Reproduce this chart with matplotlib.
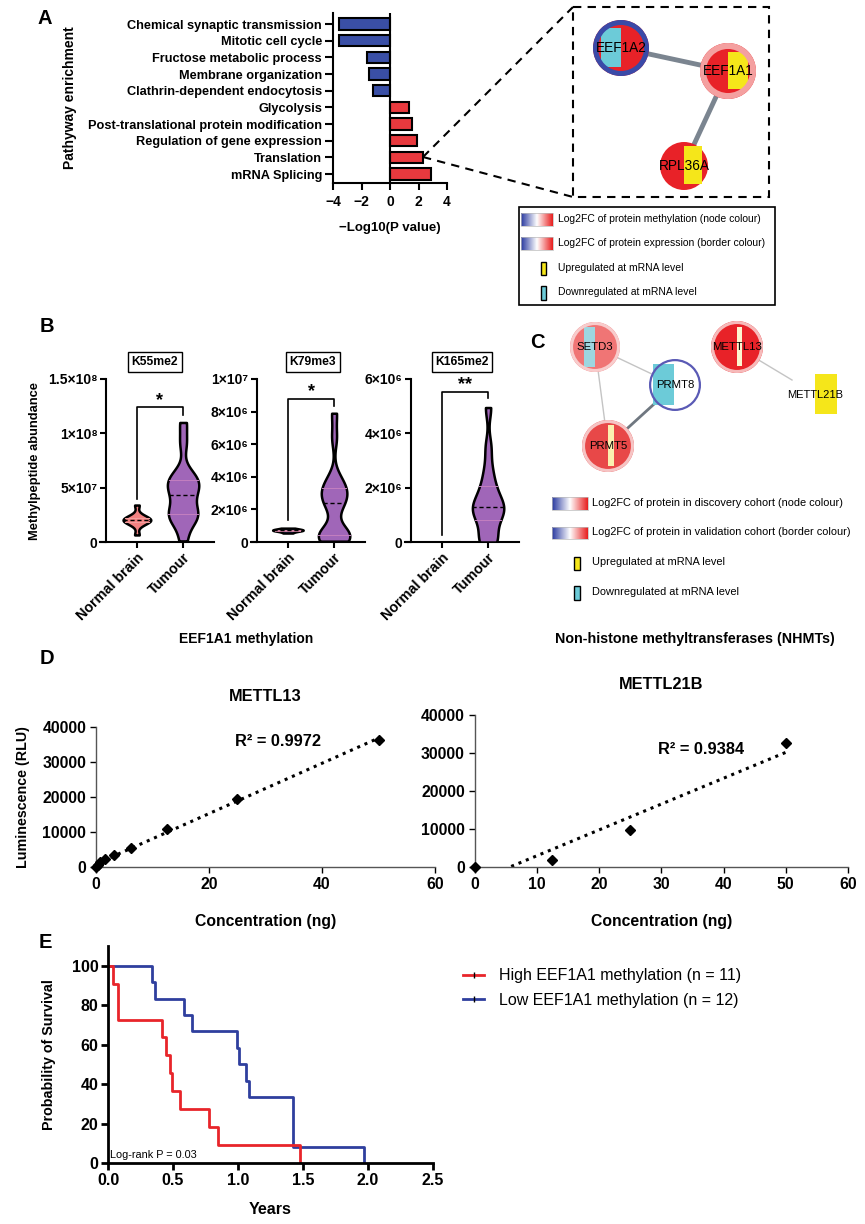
import numpy as np
import matplotlib
matplotlib.use("Agg")
import matplotlib.pyplot as plt
from matplotlib.patches import Circle, Rectangle
from matplotlib.mlab import GaussianKDE
from matplotlib.colors import LinearSegmentedColormap
from matplotlib.lines import Line2D

plt.rcParams['font.family'] = ['Liberation Sans', 'DejaVu Sans']
plt.rcParams['axes.unicode_minus'] = True

W, H = 865, 1224

# ---------------- DATA ----------------
# Panel A
pathways = ["Chemical synaptic transmission", "Mitotic cell cycle", "Fructose metabolic process",
            "Membrane organization", "Clathrin-dependent endocytosis", "Glycolysis",
            "Post-translational protein modification", "Regulation of gene expression",
            "Translation", "mRNA Splicing"]
enrichment = [-3.6, -3.6, -1.6, -1.45, -1.2, 1.3, 1.55, 1.9, 2.3, 2.85]
a_ticks = [-4, -2, 0, 2, 4]

# Panel B (estimated individual values)
k55_normal = [0.65e7, 1.55e7, 1.8e7, 1.95e7, 2.0e7, 2.05e7, 2.1e7, 2.25e7, 2.5e7, 3.4e7]
k55_tumour = [0.1e7, 1.6e7, 2.2e7, 2.5e7, 2.7e7, 2.9e7, 4.1e7, 4.3e7, 5.0e7, 5.3e7, 5.6e7, 5.9e7, 6.4e7, 9.1e7, 11.0e7]
k79_normal = [0.55e6, 0.65e6, 0.7e6, 0.72e6, 0.75e6, 0.78e6, 0.85e6]
k79_tumour = [0.05e6, 0.2e6, 0.3e6, 0.35e6, 0.4e6, 0.5e6, 0.6e6, 2.0e6, 2.4e6, 2.6e6, 2.9e6, 3.1e6, 3.3e6,
              3.6e6, 4.0e6, 6.4e6, 7.9e6]
k165_normal = []
k165_tumour = [0.0, 0.05e6, 0.15e6, 0.7e6, 0.9e6, 1.1e6, 1.2e6, 1.3e6, 1.4e6, 1.6e6, 1.9e6, 2.2e6, 2.7e6, 3.5e6, 4.95e6]
b_groups = ["Normal brain", "Tumour"]
b_titles = ["K55me2", "K79me3", "K165me2"]
b_stars = ["*", "*", "**"]
b_yticks = [[0, 5e7, 1e8, 1.5e8], [0, 2e6, 4e6, 6e6, 8e6, 1e7], [0, 2e6, 4e6, 6e6]]
b_yticklabels = [["0", "5×10⁷", "1×10⁸", "1.5×10⁸"],
                 ["0", "2×10⁶", "4×10⁶", "6×10⁶", "8×10⁶", "1×10⁷"],
                 ["0", "2×10⁶", "4×10⁶", "6×10⁶"]]
# bracket: (top, left leg bottom, right leg bottom, star y)
b_brackets = [(1.242e8, 3.96e7, 1.169e8, 1.30e8),
              (8.77e6, 1.35e6, 8.34e6, 9.25e6),
              (5.52e6, 0.26e6, 5.29e6, 5.80e6)]

# Panel D
mettl13_conc = [0, 0.39, 0.78, 1.56, 3.125, 6.25, 12.5, 25, 50]
mettl13_lum = [0, 600, 1300, 2200, 3300, 5400, 11000, 19500, 36200]
mettl21b_conc = [0, 12.5, 25, 50]
mettl21b_lum = [0, 1800, 9700, 32600]
d_xticks_left = [0, 20, 40, 60]
d_xticks_right = [0, 10, 20, 30, 40, 50, 60]
d_yticks = [0, 10000, 20000, 30000, 40000]

# Panel E (event times, years)
high_times = [0.041, 0.074, 0.08, 0.417, 0.443, 0.479, 0.492, 0.554, 0.779, 0.848, 1.48]
low_times = [0.336, 0.362, 0.587, 0.644, 0.995, 1.005, 1.06, 1.082, 1.426, 1.426, 1.426, 1.973]
e_xticks = [0.0, 0.5, 1.0, 1.5, 2.0, 2.5]
e_yticks = [0, 20, 40, 60, 80, 100]

# Colours
BLUE_BAR = '#3a4fa6'
RED_BAR = '#e8393e'
NODE_RED = '#e82228'
CYAN = '#6ccbd8'
YELLOW = '#f5e61a'
VIOLIN_PINK = '#f28282'
VIOLIN_PURPLE = '#a066b8'
KM_RED = '#e8252a'
KM_BLUE = '#2f3f9e'

fig = plt.figure(figsize=(W / 100, H / 100), dpi=100)


def ax_px(x0, y0, x1, y1, **kw):
    return fig.add_axes([x0 / W, 1 - y1 / H, (x1 - x0) / W, (y1 - y0) / H], **kw)


# ---------------- Panel A bars ----------------
axA = ax_px(333, 13, 447, 183)
pos = np.arange(len(pathways))
cols = [BLUE_BAR if v < 0 else RED_BAR for v in enrichment]
axA.barh(pos, enrichment, height=0.7, color=cols, edgecolor='black', linewidth=1.5, zorder=3)
axA.axvline(0, color='black', lw=1.5, zorder=4)
axA.set_xlim(-4, 4)
axA.set_ylim(9.54, -0.66)
axA.set_yticks(pos)
axA.set_yticklabels(pathways, fontsize=9.2, fontweight='bold')
axA.set_xticks(a_ticks)
axA.set_xticklabels([f"{t}".replace('-', '\u2212') for t in a_ticks], fontsize=10, fontweight='bold')
for s in ['top', 'right']:
    axA.spines[s].set_visible(False)
for s in ['left', 'bottom']:
    axA.spines[s].set_linewidth(1.5)
axA.tick_params(axis='y', width=1.5, length=6, pad=2)
axA.tick_params(axis='x', width=1.5, length=5, pad=4)
axA.set_xlabel("\u2212Log10(P value)", fontsize=9.5, fontweight='bold', labelpad=9)

# ---------------- Panel B violins ----------------
def draw_violin(ax, x, data, color, bw, half=0.33, qcolor='#c080c0'):
    data = np.asarray(data, dtype=float)
    if data.size == 0:
        return
    kde = GaussianKDE(data, bw)
    ys = np.linspace(data.min(), data.max(), 300)
    d = kde.evaluate(ys)
    sc = half / d.max()
    w = d * sc
    ax.fill_betweenx(ys, x - w, x + w, facecolor=color, edgecolor='black', lw=1.8, zorder=3)
    q1, med, q3 = np.percentile(data, [25, 50, 75])
    for q, ls, c, lw in [(q1, '-', qcolor, 0.7), (q3, '-', qcolor, 0.7), (med, (0, (3, 2)), 'black', 1.0)]:
        wq = kde.evaluate(np.array([q]))[0] * sc
        ax.plot([x - wq, x + wq], [q, q], ls=ls, color=c, lw=lw, zorder=4)


b_data = [(k55_normal, k55_tumour, 1.5e8, '#f5a0a0', 0.45, 0.32),
          (k79_normal, k79_tumour, 1e7, '#d080a0', 0.6, 0.28),
          (k165_normal, k165_tumour, 6e6, None, 0.6, 0.3)]
b_x0 = [106, 257, 411]
b_title_x = [155, 313, 462]
for i, (nb, tu, top, qn, bwn, bwt) in enumerate(b_data):
    ax = ax_px(b_x0[i], 379, b_x0[i] + 108, 542)
    ncol = VIOLIN_PINK if i == 0 else '#2b3a7a'
    draw_violin(ax, 0, nb, ncol, bwn, half=0.3 if i == 0 else 0.33, qcolor=qn if qn else '#c080c0')
    draw_violin(ax, 1, tu, VIOLIN_PURPLE, bwt, half=0.34, qcolor='#c47fc0')
    ax.set_xlim(-0.67, 1.67)
    ax.set_ylim(0, top)
    ax.set_yticks(b_yticks[i])
    ax.set_yticklabels(b_yticklabels[i], fontsize=10, fontweight='bold')
    ax.set_xticks([0, 1])
    ax.set_xticklabels(b_groups, rotation=45, ha='right', rotation_mode='anchor',
                       fontsize=10.3, fontweight='bold')
    for s in ['top', 'right']:
        ax.spines[s].set_visible(False)
    for s in ['left', 'bottom']:
        ax.spines[s].set_linewidth(1.5)
    ax.spines['bottom'].set_bounds(-0.8, 1.67)
    ax.tick_params(width=1.5, length=4, pad=2)
    t, ll, rl, sy = b_brackets[i]
    ax.plot([0, 0, 1, 1], [ll, t, t, rl], color='black', lw=1.2, clip_on=False, zorder=5)
    ax.text(0.5, sy, b_stars[i], ha='center', va='center', fontsize=13, fontweight='bold', clip_on=False)
    if i == 0:
        ax.set_ylabel("Methylpeptide abundance", fontsize=9.3, fontweight='bold', labelpad=5)
    fig.text(b_title_x[i] / W, 1 - 362 / H, b_titles[i], ha='center', va='center', fontsize=8.7,
             fontweight='bold', bbox=dict(boxstyle='square,pad=0.3', fc='white', ec='black', lw=1))

# ---------------- Panel D ----------------
axD1 = ax_px(96, 727, 435, 867)
axD2 = ax_px(474.5, 715, 848, 867)
for ax, xs, ys, xt, title, r2, r2pos, tpad in [
        (axD1, mettl13_conc, mettl13_lum, d_xticks_left, "METTL13", "R² = 0.9972", (278, 742), 19),
        (axD2, mettl21b_conc, mettl21b_lum, d_xticks_right, "METTL21B", "R² = 0.9384", (701, 749), 19)]:
    p = np.polyfit(xs, ys, 1)
    xl = np.array([min(xs), max(xs)])
    ax.plot(xl, np.polyval(p, xl), ls=(0, (1, 1.6)), color='black', lw=2.2, zorder=2)
    ax.plot(xs, ys, 'D', color='black', ms=5, zorder=3, clip_on=False)
    ax.set_xlim(0, 60)
    ax.set_ylim(0, 40000)
    ax.set_xticks(xt)
    ax.set_yticks(d_yticks)
    ax.tick_params(labelsize=11.3, width=1, length=4, colors='black', pad=3)
    for lab in ax.get_xticklabels() + ax.get_yticklabels():
        lab.set_fontweight('bold')
    for s in ['top', 'right']:
        ax.spines[s].set_visible(False)
    for s in ['left', 'bottom']:
        ax.spines[s].set_color('#555555')
        ax.spines[s].set_linewidth(1)
    ax.set_xlabel("Concentration (ng)", fontsize=11.3, fontweight='bold', labelpad=16)
    fig.text(r2pos[0] / W, 1 - r2pos[1] / H, r2, ha='center', va='center', fontsize=11.8, fontweight='bold')
    ax.set_title(title, fontsize=11.8, fontweight='bold', pad=tpad)
axD1.set_ylabel("Luminescence (RLU)", fontsize=10.3, fontweight='bold', labelpad=9)

# ---------------- Panel E ----------------
axE = ax_px(108, 946, 433, 1163)


def km(times):
    t = np.sort(np.asarray(times))
    n = len(t)
    x = np.concatenate([[0], t])
    y = np.concatenate([[100], 100 * (1 - np.arange(1, n + 1) / n)])
    return x, y


hx, hy = km(high_times)
lx, ly = km(low_times)
axE.step(lx, ly, where='post', color=KM_BLUE, lw=2)
axE.step(hx, hy, where='post', color=KM_RED, lw=2)
axE.set_xlim(0, 2.5)
axE.set_ylim(0, 110)
axE.set_xticks(e_xticks)
axE.set_xticklabels([f"{v:.1f}" for v in e_xticks])
axE.set_yticks(e_yticks)
axE.tick_params(labelsize=11.5, width=2, length=5, pad=2)
for lab in axE.get_xticklabels() + axE.get_yticklabels():
    lab.set_fontweight('bold')
for s in ['top', 'right']:
    axE.spines[s].set_visible(False)
for s in ['left', 'bottom']:
    axE.spines[s].set_linewidth(2)
axE.set_ylabel("Probability of Survival", fontsize=10.3, fontweight='bold', labelpad=11)
axE.set_xlabel("Years", fontsize=11.5, fontweight='bold', labelpad=10)
axE.text(0.012, 4, "Log-rank P = 0.03", fontsize=7.8, ha='left', va='center')
h1 = Line2D([], [], color=KM_RED, lw=2, marker='|', markersize=5, markeredgecolor='black', markeredgewidth=1)
h2 = Line2D([], [], color=KM_BLUE, lw=2, marker='|', markersize=5, markeredgecolor='black', markeredgewidth=1)
fig.legend(handles=[h1, h2], labels=["High EEF1A1 methylation (n = 11)", "Low EEF1A1 methylation (n = 12)"],
           loc='upper left', bbox_to_anchor=(449 / W, 1 - 954 / H), frameon=False, numpoints=1,
           fontsize=11.5, handlelength=1.3, handletextpad=0.9, labelspacing=0.6)

# ---------------- Overlay (networks, legends, labels) ----------------
ov = fig.add_axes([0, 0, 1, 1], zorder=10)
ov.patch.set_visible(False)
ov.set_xlim(0, W)
ov.set_ylim(H, 0)
ov.axis('off')

grad = LinearSegmentedColormap.from_list('bwr2', ['#2a3aa0', '#ffffff', '#e82020'])
gvals = np.linspace(0, 1, 64).reshape(1, -1)


def gradient_bar(x0, y0, x1, y1):
    ov.imshow(gvals, cmap=grad, extent=[x0, x1, y1, y0], aspect='auto', zorder=5)
    ov.add_patch(Rectangle((x0, y0), x1 - x0, y1 - y0, fill=False, ec='#bbbbbb', lw=0.5, zorder=6))


def node(cx, cy, r, fill, border, bw, rect=None, rect_color=None, label=None, fs=9, tdx=0):
    ov.add_patch(Circle((cx, cy), r, fc=fill, ec='none', zorder=3))
    if rect is not None:
        rx0, ry0, rx1, ry1 = rect
        ov.add_patch(Rectangle((rx0, ry0), rx1 - rx0, ry1 - ry0, fc=rect_color, ec='none', zorder=4))
    if border is not None:
        ov.add_patch(Circle((cx, cy), r - bw * 100 / 72 / 2, fc='none', ec=border, lw=bw, zorder=5))
    if label:
        ov.text(cx + tdx, cy, label, ha='center', va='center', fontsize=fs, zorder=6)


# Panel A network
ov.plot([423, 573], [157, 7], color='black', lw=1.5, ls=(0, (4, 3)))
ov.plot([423, 573], [157, 197], color='black', lw=1.5, ls=(0, (4, 3)))
ov.add_patch(Rectangle((573, 7), 196, 190, fill=False, ec='black', lw=1.5, ls=(0, (4, 3))))
ov.plot([621, 728], [48, 71], color='#7b8590', lw=3.5, zorder=2)
ov.plot([728, 684], [71, 166], color='#7b8590', lw=3.5, zorder=2)
node(621, 48, 28, NODE_RED, '#3a4aa8', 3.6, (601, 28, 621, 67), CYAN, "EEF1A2", 9.8)
node(728, 71, 28, NODE_RED, '#f4a0a0', 4.3, (728, 52, 748, 89), YELLOW, "EEF1A1", 9.8)
node(684, 166, 24, NODE_RED, None, 0, (684, 146, 702, 184), YELLOW, "RPL36A", 9.8)

# Panel A legend
ov.add_patch(Rectangle((519, 207), 256, 98, fill=False, ec='black', lw=1.2))
gradient_bar(521, 213, 553, 226)
gradient_bar(521, 237, 553, 250)
ov.add_patch(Rectangle((541, 262), 5, 13, fc=YELLOW, ec='black', lw=1))
ov.add_patch(Rectangle((541, 286), 5, 14, fc=CYAN, ec='black', lw=1))
a_leg = ["Log2FC of protein methylation (node colour)", "Log2FC of protein expression (border colour)",
         "Upregulated at mRNA level", "Downregulated at mRNA level"]
for txt, y in zip(a_leg, [219, 243, 268, 292]):
    ov.text(558, y, txt, fontsize=7.5, va='center', ha='left')

# Panel C network
ov.plot([595, 675], [347, 385], color='#c4c4c4', lw=1, zorder=2)
ov.plot([595, 608], [347, 446], color='#c4c4c4', lw=1, zorder=2)
ov.plot([675, 608], [385, 446], color='#6f7780', lw=2, zorder=2)
ov.plot([737, 792], [347, 380], color='#c4c4c4', lw=1, zorder=2)
node(595, 347, 25, '#f07575', '#f8cccc', 2.2, (584, 327, 595, 367), '#9dd6e0', "SETD3", 8.2)
node(675, 385, 26, 'white', '#5a5ab5', 1.6, (653, 364, 674, 405), CYAN, "PRMT8", 8.2)
node(608, 446, 26, '#e84848', '#f6c4c4', 2.2, (608, 425, 614, 466), '#fbf0b0', "PRMT5", 8.2)
node(737, 347, 26, NODE_RED, '#f6baba', 2.2, (737, 327, 742, 366), '#fdf5d0', "METTL13", 8.2)
ov.add_patch(Rectangle((815, 374), 22, 40, fc=YELLOW, ec='none', zorder=3))
ov.text(815, 395, "METTL21B", fontsize=8, ha='center', va='center', zorder=6)

# Panel C legend
gradient_bar(552, 497, 588, 510)
gradient_bar(552, 527, 588, 539)
ov.add_patch(Rectangle((574, 557), 6, 13, fc=YELLOW, ec='black', lw=1))
ov.add_patch(Rectangle((574, 586), 6, 14, fc=CYAN, ec='black', lw=1))
c_leg = ["Log2FC of protein in discovery cohort (node colour)",
         "Log2FC of protein in validation cohort (border colour)",
         "Upregulated at mRNA level", "Downregulated at mRNA level"]
for txt, y in zip(c_leg, [503, 532, 562, 592]):
    ov.text(592, y, txt, fontsize=7.9, va='center', ha='left')

ov.text(695, 639, "Non-histone methyltransferases (NHMTs)", fontsize=10.3, fontweight='bold', ha='center', va='center')
ov.text(246, 639, "EEF1A1 methylation", fontsize=10, fontweight='bold', ha='center', va='center')
ov.text(70, 98, "Pathyway enrichment", fontsize=10, fontweight='bold', ha='center', va='center', rotation=90)

for lab, x, y in [("A", 45, 18), ("B", 47, 326), ("C", 537, 343), ("D", 47, 659), ("E", 45, 943)]:
    ov.text(x, y, lab, fontsize=14.5, fontweight='bold', ha='center', va='center')

ov.set_xlim(0, W)
ov.set_ylim(H, 0)

fig.savefig("out.png", dpi=100)
